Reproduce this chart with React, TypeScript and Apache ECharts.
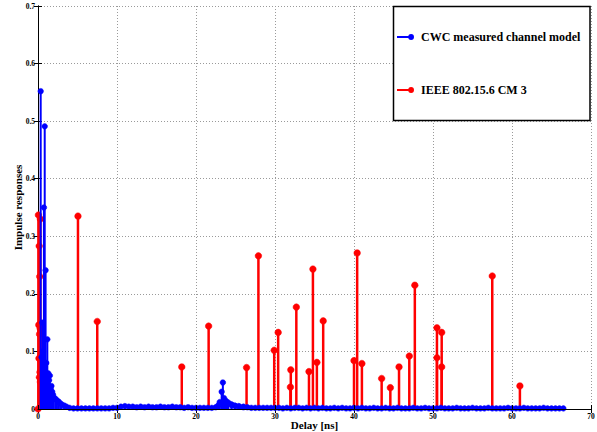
import React, { useEffect, useRef } from "react";
import * as echarts from "echarts";

// ---------- data ----------
const xTicks = [0, 10, 20, 30, 40, 50, 60, 70];
const yTicks = [0, 0.1, 0.2, 0.3, 0.4, 0.5, 0.6, 0.7];

const seriesNames = ["CWC measured channel model", "IEEE 802.15.6 CM 3"];

// CWC measured channel: early strong taps (delay ns, value)
const blueEarlyDelays = [0.34, 0.45, 0.55, 0.65, 0.75, 0.85, 0.96, 1.05, 1.18, 1.3, 1.4, 1.5, 1.6, 1.7, 1.8, 1.9, 2.0, 2.2, 2.4, 2.6, 2.8, 3.0, 3.3, 3.6];
const blueEarlyValues = [0.552, 0.09, 0.15, 0.1, 0.35, 0.491, 0.241, 0.08, 0.121, 0.062, 0.05, 0.058, 0.035, 0.04, 0.03, 0.025, 0.02, 0.018, 0.015, 0.013, 0.01, 0.008, 0.006, 0.004];

// second cluster around 23 ns
const blueBumpDelays = [22.8, 23.0, 23.25, 23.4, 23.55, 23.8, 24.1, 24.5, 24.9, 25.4, 26.0];
const blueBumpValues = [0.006, 0.012, 0.03, 0.046, 0.019, 0.014, 0.011, 0.008, 0.006, 0.005, 0.004];

// low-level floor, sampled every 0.5 ns from 4 ns to 66.5 ns
const blueFloorStart = 4;
const blueFloorStep = 0.5;
const blueFloorValues = [
  0.002, 0.001, 0.001, 0.001, 0.001, 0.001, 0.001, 0.001, 0.001, 0.001, 0.001, 0.002, 0.002,
  0.004, 0.005, 0.004, 0.004, 0.003, 0.004, 0.003, 0.004, 0.003, 0.003, 0.004, 0.003, 0.003, 0.004, 0.003, 0.003, 0.002, 0.003, 0.002, 0.002,
  0.002, 0.002, 0.002, 0.002, 0.003, 0.008, 0.012, 0.009, 0.007, 0.005, 0.004, 0.003, 0.003, 0.002, 0.002, 0.002, 0.002, 0.002, 0.002, 0.002,
  0.002, 0.001, 0.002, 0.001, 0.002, 0.002, 0.001, 0.002, 0.001, 0.002, 0.001, 0.002, 0.001, 0.001, 0.002, 0.001, 0.002, 0.001, 0.001, 0.002,
  0.001, 0.002, 0.001, 0.001, 0.002, 0.001, 0.001, 0.002, 0.001, 0.001, 0.002, 0.001, 0.001, 0.001, 0.002, 0.001, 0.001, 0.002, 0.001, 0.001,
  0.001, 0.002, 0.001, 0.001, 0.001, 0.002, 0.001, 0.001, 0.001, 0.002, 0.001, 0.001, 0.001, 0.002, 0.001, 0.001, 0.001, 0.001, 0.002, 0.001,
  0.001, 0.001, 0.002, 0.001, 0.001, 0.001, 0.001, 0.002, 0.001, 0.001, 0.001, 0.001, 0.001,
];

// IEEE 802.15.6 CM3 taps
const redDelays = [
  0.05, 0.3, 0.15, 0.22, 0.1, 0.28, 0.2, 0.12, 0.25, 0.18, 0.3, 0.0,
  5.06, 7.5, 18.2, 21.6, 26.4, 27.9, 29.9, 30.4, 32.0, 31.95, 32.7, 34.3, 34.8, 35.3, 36.1,
  40.0, 40.4, 41.0, 43.5, 44.6, 45.7, 47.0, 47.7, 50.5, 50.5, 51.1, 51.1, 57.5, 61.0,
];
const redValues = [
  0.337, 0.33, 0.283, 0.23, 0.146, 0.14, 0.13, 0.088, 0.064, 0.055, 0.047, 0.0,
  0.335, 0.152, 0.073, 0.144, 0.072, 0.266, 0.102, 0.133, 0.068, 0.038, 0.177, 0.065, 0.243, 0.081, 0.153,
  0.084, 0.271, 0.079, 0.053, 0.037, 0.073, 0.092, 0.215, 0.141, 0.089, 0.133, 0.073, 0.231, 0.04,
];

// ---------- helpers ----------
const FONT = "'Liberation Serif', 'Times New Roman', serif";

function zip(xs: number[], ys: number[]) {
  return xs.map((x, i) => [x, ys[i]]);
}

function stemRenderer(color: string, lineWidth: number, r: number) {
  return (_params: any, api: any) => {
    const x = api.value(0);
    const y = api.value(1);
    const top = api.coord([x, y]);
    const base = api.coord([x, 0]);
    return {
      type: "group",
      children: [
        {
          type: "line",
          shape: { x1: base[0], y1: base[1], x2: top[0], y2: top[1] },
          style: { stroke: color, lineWidth },
        },
        {
          type: "circle",
          shape: { cx: top[0], cy: top[1], r },
          style: { fill: color, stroke: color, lineWidth: 0.5 },
        },
      ],
    };
  };
}

const legendIcon =
  "path://M0,3L12,3L12,5L0,5Z M11.2,4A2.9,2.9,0,1,1,17,4A2.9,2.9,0,1,1,11.2,4Z";

export default function App() {
  const ref = useRef<HTMLDivElement>(null);

  useEffect(() => {
    if (!ref.current) return;
    const chart = echarts.init(ref.current, undefined, { renderer: "svg" });

    const floorData = blueFloorValues.map((v, i) => [blueFloorStart + i * blueFloorStep, v]);
    const blueData = [...zip(blueEarlyDelays, blueEarlyValues), ...floorData, ...zip(blueBumpDelays, blueBumpValues)];
    const redData = zip(redDelays, redValues);

    const gridLine = { show: true, lineStyle: { color: "#9a9a9a", type: [1, 2] as any, width: 1 } };
    const labelStyle = { fontFamily: FONT, fontWeight: "bold" as const, fontSize: 7.5, color: "#000" };

    chart.setOption({
      animation: false,
      backgroundColor: "#fff",
      grid: { left: 38, right: 6, top: 6, bottom: 23, containLabel: false, outerBoundsMode: "none" },
      xAxis: [
        {
          type: "value",
          min: 0,
          max: 70,
          interval: 10,
          position: "bottom",
          name: "Delay [ns]",
          nameLocation: "middle",
          nameGap: 10,
          nameMoveOverlap: false,
          nameTextStyle: { fontFamily: FONT, fontWeight: "bold", fontSize: 11, color: "#000", verticalAlign: "top" },
          axisLine: { show: true, lineStyle: { color: "#000", width: 1 } },
          axisTick: { show: true, inside: true, length: 4, lineStyle: { color: "#000" } },
          axisLabel: { ...labelStyle, margin: 3, formatter: (v: number) => (xTicks.includes(v) ? String(v) : "") },
          splitLine: { show: false },
          z: 5,
        },
        {
          type: "value",
          min: 0,
          max: 70,
          interval: 10,
          position: "top",
          axisLine: { show: true, lineStyle: { color: "#000", width: 1 } },
          axisTick: { show: true, inside: true, length: 4, lineStyle: { color: "#000" } },
          axisLabel: { show: false },
          splitLine: gridLine,
        },
      ],
      yAxis: [
        {
          type: "value",
          min: 0,
          max: 0.7,
          interval: 0.1,
          position: "left",
          name: "Impulse responses",
          nameLocation: "middle",
          nameGap: 15,
          nameMoveOverlap: false,
          nameRotate: 90,
          nameTextStyle: { fontFamily: FONT, fontWeight: "bold", fontSize: 11, color: "#000" },
          axisLine: { show: true, lineStyle: { color: "#000", width: 1 } },
          axisTick: { show: true, inside: true, length: 4, lineStyle: { color: "#000" } },
          axisLabel: {
            ...labelStyle,
            margin: 3,
            formatter: (v: number) => {
              const t = yTicks.find((k) => Math.abs(k - v) < 1e-9);
              return t === undefined ? "" : t === 0 ? "0" : t.toFixed(1);
            },
          },
          splitLine: gridLine,
        },
        {
          type: "value",
          min: 0,
          max: 0.7,
          interval: 0.1,
          position: "right",
          axisLine: { show: true, lineStyle: { color: "#000", width: 1 } },
          axisTick: { show: true, inside: true, length: 4, lineStyle: { color: "#000" } },
          axisLabel: { show: false },
          splitLine: { show: false },
        },
      ],
      graphic: [
        {
          type: "rect",
          shape: { x: 393.5, y: 6.5, width: 196.5, height: 114 },
          style: { fill: "#fff", stroke: "#000", lineWidth: 1.5 },
          z: 20,
        },
      ],
      legend: {
        show: true,
        orient: "vertical",
        left: 397,
        top: 30,
        padding: 0,
        itemGap: 39,
        itemWidth: 17,
        itemHeight: 6,
        z: 30,
        selectedMode: false,
        textStyle: { fontFamily: FONT, fontWeight: "bold", fontSize: 12, color: "#000", lineHeight: 14, padding: [0, 0, 0, 2] },
        data: [
          { name: seriesNames[0], icon: legendIcon, itemStyle: { color: "#0000ff" } },
          { name: seriesNames[1], icon: legendIcon, itemStyle: { color: "#ff0000" } },
        ],
      },
      series: [
        {
          name: seriesNames[1],
          type: "custom",
          xAxisIndex: 0,
          yAxisIndex: 0,
          itemStyle: { color: "#ff0000" },
          encode: { x: 0, y: 1 },
          renderItem: stemRenderer("#ff0000", 2.5, 3.3),
          data: redData,
          z: 2,
        },
        {
          name: seriesNames[0],
          type: "custom",
          xAxisIndex: 0,
          yAxisIndex: 0,
          itemStyle: { color: "#0000ff" },
          encode: { x: 0, y: 1 },
          renderItem: stemRenderer("#0000ff", 2, 2.8),
          data: blueData,
          z: 3,
        },
      ],
    });

    return () => {
      chart.dispose();
    };
  }, []);

  return <div ref={ref} style={{ width: 597, height: 432, position: "absolute", left: 0, top: 0 }} />;
}
